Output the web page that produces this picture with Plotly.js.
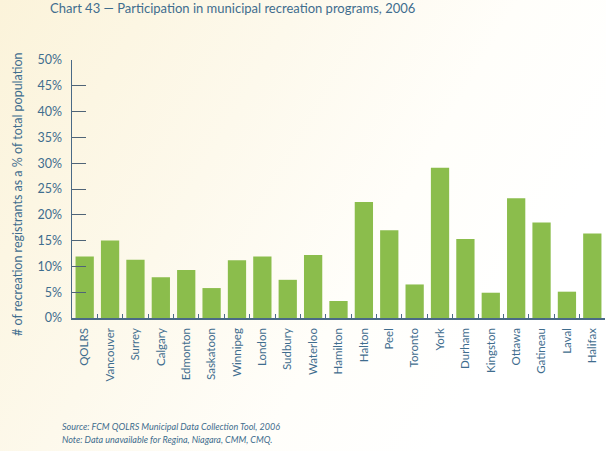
<!DOCTYPE html>
<html>
<head>
<meta charset="utf-8">
<script src="https://cdn.plot.ly/plotly-3.0.1.min.js"></script>
<style>
  html, body { margin: 0; padding: 0; }
  body {
    width: 606px; height: 451px; overflow: hidden;
    background: linear-gradient(120deg, #fbf3da 0%, #fdf9ec 35%, #fffefa 60%, #ffffff 80%);
  }
  #chart { width: 606px; height: 451px; }
</style>
</head>
<body>
<div id="chart"></div>
<script>
// Municipalities (QOLRS = all-member average)
const cities = ["QOLRS", "Vancouver", "Surrey", "Calgary", "Edmonton", "Saskatoon",
  "Winnipeg", "London", "Sudbury", "Waterloo", "Hamilton", "Halton", "Peel",
  "Toronto", "York", "Durham", "Kingston", "Ottawa", "Gatineau", "Laval", "Halifax"];

// Recreation registrants as % of total population
const participation = [11.9, 15.0, 11.3, 7.9, 9.3, 5.8, 11.2, 11.9, 7.4, 12.2, 3.3,
  22.5, 17.0, 6.5, 29.1, 15.3, 4.9, 23.2, 18.5, 5.1, 16.4];

const blue = "#3f6d8e";
const axisBlue = "#4a6a86";
const FONT = "Lato, Open Sans, sans-serif";

const trace = {
  type: "bar",
  x: cities,
  y: participation,
  marker: { color: "#8bbd4c" },
  hoverinfo: "x+y"
};

const layout = {
  width: 606,
  height: 451,
  margin: { l: 72, r: 1, t: 60, b: 133 },
  paper_bgcolor: "rgba(0,0,0,0)",
  plot_bgcolor: "rgba(0,0,0,0)",
  bargap: 0.28,
  showlegend: false,
  font: { family: FONT, color: blue },
  title: {
    text: "Chart 43 \u2014 Participation in municipal recreation programs, 2006",
    xref: "container", x: 50 / 606, xanchor: "left",
    yref: "container", y: 1 - 8 / 451, yanchor: "middle",
    font: { family: FONT, size: 13, color: blue }
  },
  xaxis: {
    type: "category",
    tickangle: -90,
    tickson: "boundaries",
    ticks: "inside",
    ticklen: 4,
    tickwidth: 1,
    tickcolor: axisBlue,
    ticklabelstandoff: 4,
    showline: true,
    linecolor: axisBlue,
    linewidth: 1.5,
    showgrid: false,
    tickfont: { family: FONT, size: 11.5, color: blue },
    fixedrange: true
  },
  yaxis: {
    range: [0, 50],
    dtick: 5,
    ticksuffix: "%",
    ticks: "inside",
    ticklen: 14,
    tickwidth: 1,
    tickcolor: "#4f6477",
    ticklabelstandoff: 6,
    showline: true,
    linecolor: axisBlue,
    linewidth: 1.5,
    showgrid: false,
    zeroline: false,
    tickfont: { family: FONT, size: 12.5, color: blue },
    fixedrange: true
  },
  annotations: [
    {
      text: "# of recreation registrants as a % of total population",
      textangle: -90,
      xref: "paper", yref: "paper",
      x: (17 - 72) / 533, y: (318 - 195) / 258,
      xanchor: "center", yanchor: "middle",
      showarrow: false,
      font: { family: FONT, size: 12.5, color: blue }
    },
    {
      text: "<i>Source: FCM QOLRS Municipal Data Collection Tool, 2006</i>",
      xref: "paper", yref: "paper",
      x: (60 - 72) / 533, y: (318 - 427) / 258,
      xanchor: "left", yanchor: "middle",
      showarrow: false,
      font: { family: FONT, size: 9, color: blue }
    },
    {
      text: "<i>Note: Data unavailable for Regina, Niagara, CMM, CMQ.</i>",
      xref: "paper", yref: "paper",
      x: (60 - 72) / 533, y: (318 - 439) / 258,
      xanchor: "left", yanchor: "middle",
      showarrow: false,
      font: { family: FONT, size: 9, color: blue }
    }
  ]
};

Plotly.newPlot("chart", [trace], layout, { displayModeBar: false, staticPlot: true });
</script>
</body>
</html>
